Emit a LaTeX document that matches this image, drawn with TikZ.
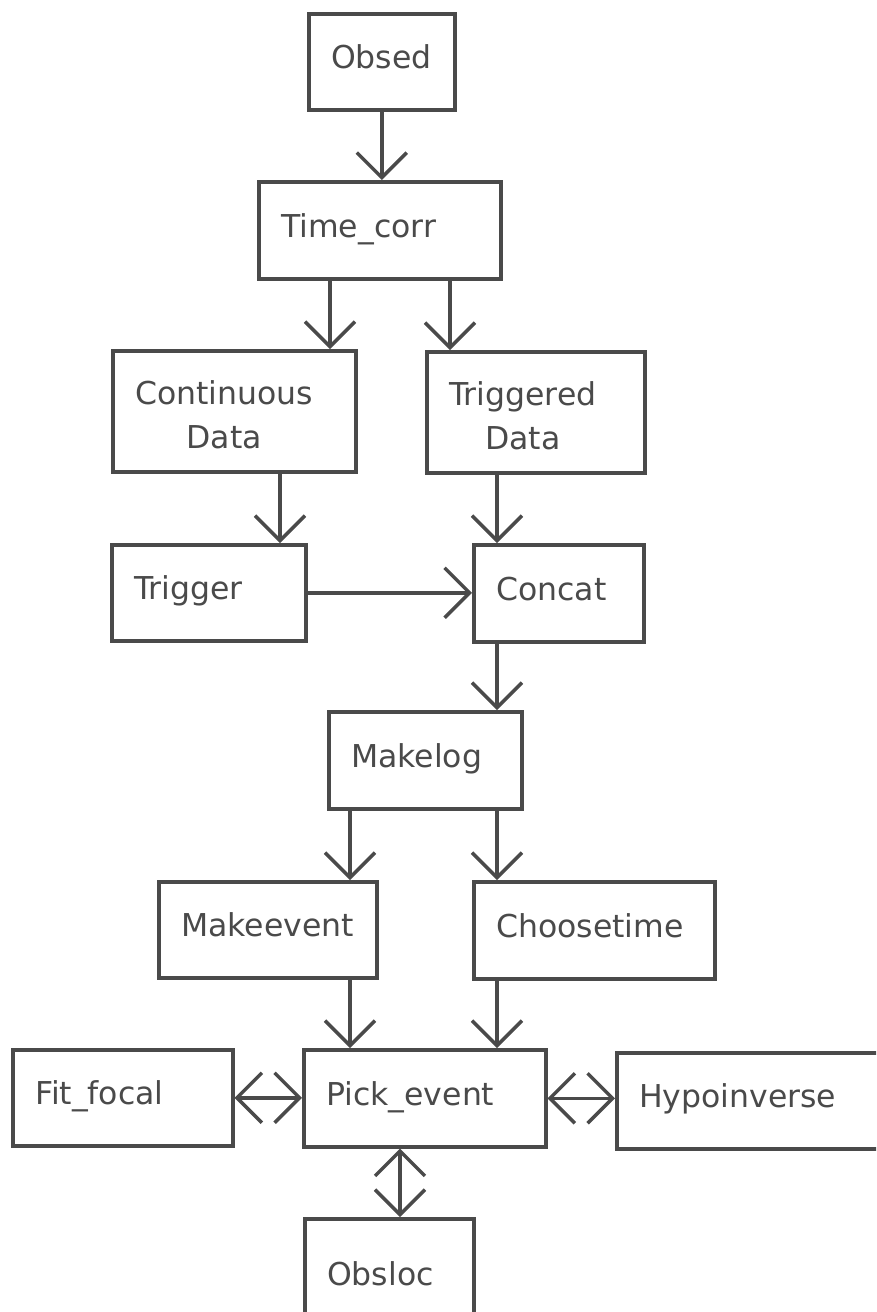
\documentclass[tikz,border=0pt]{standalone}
\usepackage{fontspec}
\setmainfont{DejaVu Sans}
\usetikzlibrary{arrows.meta}
\definecolor{ink}{HTML}{4A4A4A}

\begin{document}
\begin{tikzpicture}[
  x=1pt, y=-1pt,
  color=ink,
  blk/.style={
    draw,
    line width=3.5pt,
    inner sep=0pt,
    anchor=north west
  },
  txt/.style={
    anchor=base west,
    xshift=24pt,
    yshift=-7pt,
    inner sep=0pt,
    font=\fontsize{31.5}{44}\selectfont
  },
  txttwo/.style={
    anchor=west,
    xshift=24pt,
    yshift=-3.5pt,
    inner sep=0pt,
    align=center,
    font=\fontsize{31.5}{44}\selectfont
  },
  arr/.style={
    -{Straight Barb[length=25pt,width=50pt]},
    line width=3.5pt
  },
  arrboth/.style={
    {Straight Barb[length=25pt,width=50pt]}-{Straight Barb[length=25pt,width=50pt]},
    line width=3.5pt
  },
]
\useasboundingbox (0,0) rectangle (876,1312);
\clip (0,0) rectangle (876,1312);
\fill[white] (0,0) rectangle (876,1312);

\node[blk, minimum width=146, minimum height=96, label={[txt]west:Obsed}] (obsed) at (307,12) {};
\node[blk, minimum width=242, minimum height=97, label={[txt]west:Time\_corr}] (timecorr) at (257,180) {};
\node[blk, minimum width=243, minimum height=121, label={[txttwo]west:Continuous\\Data}] (contdata) at (111,349) {};
\node[blk, minimum width=218, minimum height=121, label={[txttwo]west:Triggered\\Data}] (trigdata) at (425,350) {};
\node[blk, minimum width=194, minimum height=96, label={[txt]west:Trigger}] (trigger) at (110,543) {};
\node[blk, minimum width=170, minimum height=97, label={[txt]west:Concat}] (concat) at (472,543) {};
\node[blk, minimum width=193, minimum height=97, label={[txt]west:Makelog}] (makelog) at (327,710) {};
\node[blk, minimum width=218, minimum height=96, label={[txt]west:Makeevent}] (makeevent) at (157,880) {};
\node[blk, minimum width=241, minimum height=97, label={[txt]west:Choosetime}] (choosetime) at (472,880) {};
\node[blk, minimum width=220, minimum height=96, label={[txt]west:Fit\_focal}] (fitfocal) at (11,1048) {};
\node[blk, minimum width=242, minimum height=97, label={[txt]west:Pick\_event}] (pickevent) at (302,1048) {};
\node[blk, minimum width=280, minimum height=96, label={[txt]west:Hypoinverse}] (hypo) at (615,1051) {};
\node[blk, minimum width=169, minimum height=120, label={[txt]west:Obsloc}] (obsloc) at (303,1217) {};

\draw[arr] (obsed.south) -- (obsed.south |- timecorr.north);
\draw[arr] ([xshift=73pt]timecorr.south west) -- ([xshift=73pt]timecorr.south west |- contdata.north);
\draw[arr] ([xshift=193pt]timecorr.south west) -- ([xshift=193pt]timecorr.south west |- trigdata.north);
\draw[arr] ([xshift=169pt]contdata.south west) -- ([xshift=169pt]contdata.south west |- trigger.north);
\draw[arr] ([xshift=72pt]trigdata.south west) -- ([xshift=72pt]trigdata.south west |- concat.north);
\draw[arr] (trigger.east) -- (trigger.east -| concat.west);
\draw[arr] ([xshift=25pt]concat.south west) -- ([xshift=25pt]concat.south west |- makelog.north);
\draw[arr] ([xshift=23pt]makelog.south west) -- ([xshift=23pt]makelog.south west |- makeevent.north);
\draw[arr] ([xshift=170pt]makelog.south west) -- ([xshift=170pt]makelog.south west |- choosetime.north);
\draw[arr] ([xshift=193pt]makeevent.south west) -- ([xshift=193pt]makeevent.south west |- pickevent.north);
\draw[arr] ([xshift=25pt]choosetime.south west) -- ([xshift=25pt]choosetime.south west |- pickevent.north);
\draw[arrboth] (fitfocal.east) -- (fitfocal.east -| pickevent.west);
\draw[arrboth] (pickevent.east) -- (pickevent.east -| hypo.west);
\draw[arrboth] ([xshift=98pt]pickevent.south west) -- ([xshift=98pt]pickevent.south west |- obsloc.north);
\end{tikzpicture}
\end{document}
